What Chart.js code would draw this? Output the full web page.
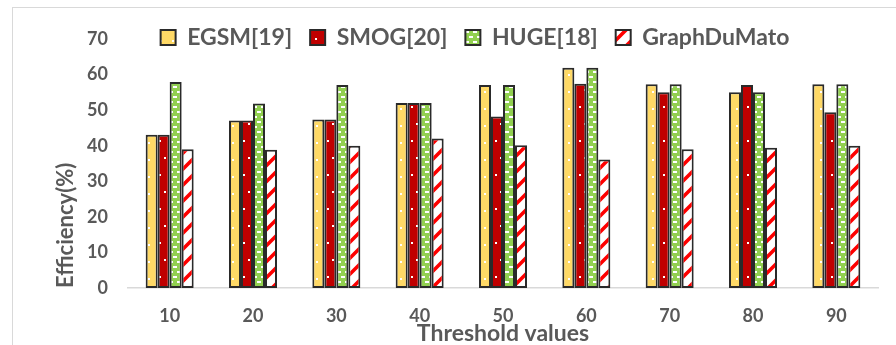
<!DOCTYPE html>
<html><head><meta charset="utf-8">
<script src="https://cdn.jsdelivr.net/npm/chart.js@4/dist/chart.umd.min.js"></script>
<style>html,body{margin:0;padding:0;background:#fff;}#wrap{width:896px;height:345px;}</style>
</head><body><div id="wrap"><canvas id="c" width="896" height="345"></canvas></div>
<script>
const categories = ['10', '20', '30', '40', '50', '60', '70', '80', '90'];
const seriesNames = ['EGSM[19]', 'SMOG[20]', 'HUGE[18]', 'GraphDuMato'];
const egsm = [43.1, 47.1, 47.4, 52.0, 57.1, 61.9, 57.3, 55.0, 57.3];
const smog = [43.1, 47.1, 47.4, 52.0, 48.2, 57.4, 55.0, 57.1, 49.4];
const huge = [57.9, 51.9, 57.1, 52.0, 57.1, 61.9, 57.3, 55.0, 57.3];
const graphDuMato = [39.0, 38.9, 40.0, 42.0, 40.1, 36.1, 39.0, 39.4, 40.0];
const yTickValues = [0, 10, 20, 30, 40, 50, 60, 70];
const xTitle = 'Threshold values';
const yTitle = 'Efficiency(%)';

const canvas = document.getElementById('c');
const mainCtx = canvas.getContext('2d');
function makePattern(w, h, draw) {
  const t = document.createElement('canvas');
  t.width = w; t.height = h;
  const x = t.getContext('2d');
  draw(x, w, h);
  return mainCtx.createPattern(t, 'repeat');
}
const yellowDots = makePattern(12, 17, (x, w, h) => {
  x.fillStyle = '#FFD966'; x.fillRect(0, 0, w, h);
  x.fillStyle = '#ffffff'; x.fillRect(4, 6, 2, 2);
});
const redDots = makePattern(12, 34, (x, w, h) => {
  x.fillStyle = '#C00000'; x.fillRect(0, 0, w, h);
  x.fillStyle = '#ffffff'; x.fillRect(3, 4, 2, 2); x.fillRect(8, 21, 2, 2);
});
const greenDashes = makePattern(8, 10, (x, w, h) => {
  x.fillStyle = '#92D050'; x.fillRect(0, 0, w, h);
  x.fillStyle = '#ffffff'; x.fillRect(1, 1, 4, 2); x.fillRect(5, 6, 3, 2); x.fillRect(0, 6, 1, 2);
});
const redStripes = makePattern(16, 16, (x, w, h) => {
  x.fillStyle = '#ffffff'; x.fillRect(0, 0, w, h);
  x.strokeStyle = '#FF0000'; x.lineWidth = 3.6;
  x.beginPath();
  x.moveTo(-4, 20); x.lineTo(20, -4);
  x.moveTo(-12, 12); x.lineTo(12, -12);
  x.moveTo(4, 28); x.lineTo(28, 4);
  x.stroke();
});

const seriesValues = [egsm, smog, huge, graphDuMato];
const fills = [yellowDots, redDots, greenDashes, redStripes];
const datasets = seriesNames.map((name, i) => ({
  label: name,
  data: seriesValues[i],
  backgroundColor: fills[i],
  borderColor: '#2a2a2a',
  borderWidth: 2,
  borderSkipped: false,
  categoryPercentage: 0.576,
  barPercentage: 1.0
}));

const LEGEND_DX = 36;
const framePlugin = {
  id: 'frame',
  beforeDraw(chart) {
    const c = chart.ctx;
    c.save();
    c.fillStyle = '#ffffff'; c.fillRect(0, 0, chart.width, chart.height);
    c.strokeStyle = '#d9d9d9'; c.lineWidth = 1;
    c.strokeRect(12.5, 7.5, 1000, 1000);
    c.restore();
  }
};
const legendPlugin = {
  id: 'legendFix',
  beforeInit(chart) {
    const lg = chart.legend;
    const orig = lg.fit;
    lg.fit = function () { orig.call(this); this.height = 31; };
  },
  afterLayout(chart) {
    const lg = chart.legend;
    lg.left += LEGEND_DX;
    lg.right += LEGEND_DX;
    lg.height = 70;
    lg.bottom = lg.top + 70;
  }
};

const tickFont = { family: 'Lato', size: 18, weight: 'bold' };
new Chart(canvas, {
  type: 'bar',
  data: { labels: categories, datasets },
  plugins: [framePlugin, legendPlugin],
  options: {
    responsive: false,
    animation: false,
    devicePixelRatio: 1,
    layout: { padding: { left: 0, right: 18, top: 8, bottom: 0 } },
    plugins: {
      legend: {
        position: 'top',
        labels: {
          font: { family: 'Lato', size: 23, weight: 'bold' },
          color: '#595959',
          boxWidth: 15,
          boxHeight: 15,
          padding: 18
        }
      },
      tooltip: { enabled: false }
    },
    scales: {
      x: {
        grid: { display: false, drawTicks: false },
        border: { display: true, color: '#d9d9d9', width: 1.5 },
        ticks: { font: tickFont, color: '#595959', padding: 17 },
        title: { display: true, text: xTitle, font: { family: 'Lato', size: 23, weight: 'bold', lineHeight: 1 }, color: '#595959', padding: { top: 0, bottom: 0 } },
        afterFit(scale) { scale.height = 57; }
      },
      y: {
        min: 0, max: 70,
        afterBuildTicks(scale) { scale.ticks = yTickValues.map(v => ({ value: v })); },
        grid: { display: false, drawTicks: false },
        border: { display: false },
        ticks: { font: tickFont, color: '#595959', padding: 20 },
        title: { display: true, text: yTitle, align: 'start', font: { family: 'Lato', size: 22, weight: 'bold', lineHeight: 1 }, color: '#595959', padding: { top: 55, bottom: 0 } },
        afterFit(scale) { scale.width = 128; }
      }
    }
  }
});
</script></body></html>
